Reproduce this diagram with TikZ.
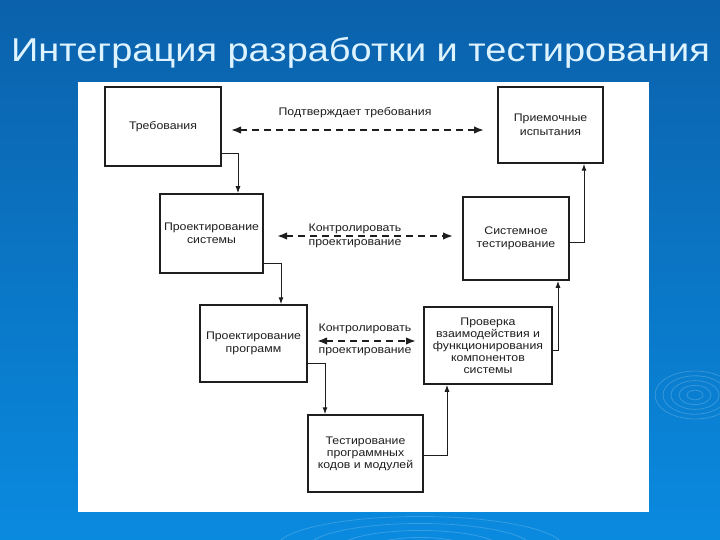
\documentclass[tikz,border=0pt]{standalone}
\usepackage{fontspec}
\setmainfont{Liberation Sans}
\newfontfamily\diagfont[FakeStretch=1.12]{Liberation Sans}
\newfontfamily\titlefont[FakeStretch=1.15]{Liberation Sans}
\usetikzlibrary{arrows.meta,calc}
\definecolor{bgtop}{HTML}{0B61AB}
\definecolor{bgbot}{HTML}{0A8ADF}
\definecolor{titlec}{HTML}{DDF3FF}
\definecolor{ink}{HTML}{1E1E1E}
\tikzset{
  box/.style={draw=ink, line width=1.5pt, fill=white, align=center, inner sep=2pt,
    font=\diagfont\fontsize{11}{13.5}\selectfont, text=ink},
  conn/.style={draw=ink, line width=1pt, -{Latex[length=7pt,width=5pt]}},
  dasharrow/.style={draw=ink, line width=1.7pt, dash pattern=on 7pt off 5pt,
    {Latex[length=10pt,width=7.5pt]}-{Latex[length=10pt,width=7.5pt]}},
  lbl/.style={font=\diagfont\fontsize{11}{13}\selectfont, text=ink, inner sep=0pt},
  ripple/.style={draw=white, opacity=0.18, line width=0.8pt}
}
\begin{document}
\begin{tikzpicture}[x=1pt,y=-1pt]
\useasboundingbox (0,0) rectangle (720,540);
\shade[top color=bgtop, bottom color=bgbot] (0,0) rectangle (720,540);
% faint background ripples
\foreach \r in {8,16,24,32,40}{
  \draw[ripple] (695,395) ellipse ({\r} and {0.6*\r});
}
\foreach \r in {30,50,70,90}{
  \draw[ripple] (420,548) ellipse ({1.6*\r} and {0.35*\r});
}
% title
\node[anchor=base west, inner sep=0pt, text=titlec, font=\titlefont\fontsize{33}{36}\selectfont] (title) at (11,62) {Интеграция разработки и тестирования};
% panel
\fill[white] (78,82) rectangle (649,512);

% boxes
\node[box, minimum width=116pt, minimum height=79pt] (req) at (163,126.5) {Требования};
\node[box, minimum width=105pt, minimum height=76pt] (acc) at (550.5,125) {Приемочные\\испытания};
\node[box, minimum width=103pt, minimum height=79pt] (sysdes) at (211.5,233.5) {Проектирование\\системы};
\node[box, minimum width=106pt, minimum height=83pt] (systest) at (516,238.5) {Системное\\тестирование};
\node[box, minimum width=107pt, minimum height=77pt] (progdes) at (253.5,343.5) {Проектирование\\программ};
\node[box, minimum width=128pt, minimum height=77pt, font=\diagfont\fontsize{11}{12}\selectfont] (integ) at (488,345.5) {Проверка\\взаимодействия и\\функционирования\\компонентов\\системы};
\node[box, minimum width=115pt, minimum height=77pt, font=\diagfont\fontsize{11}{12}\selectfont] (unit) at (365.5,453.5) {Тестирование\\программных\\кодов и модулей};

% solid connectors
\draw[conn] (req.east |- 0,154) -| (238,0 |- sysdes.north);
\draw[conn] (sysdes.east |- 0,263) -| (281,0 |- progdes.north);
\draw[conn] (progdes.east |- 0,363) -| (325,0 |- unit.north);
\draw[conn] (unit.east |- 0,455) -| (447,0 |- integ.south);
\draw[conn] (integ.east |- 0,350) -| (558,0 |- systest.south);
\draw[conn] (systest.east |- 0,242) -| (584,0 |- acc.south);

% dashed connectors
\coordinate (d1a) at (231,130);
\coordinate (d1b) at (484,130);
\coordinate (d2a) at (277,236);
\coordinate (d2b) at (453,236);
\coordinate (d3a) at (317,341);
\coordinate (d3b) at (416,341);
\draw[dasharrow] (d1a) -- (d1b);
\draw[dasharrow] (d2a) -- (d2b);
\draw[dasharrow] (d3a) -- (d3b);

% labels
\node[lbl] (l1) at (355,113) {Подтверждает требования};
\node[lbl] (l2a) at (355,229) {Контролировать};
\node[lbl] (l2b) at (355,244) {проектирование};
\node[lbl] (l3a) at (365,329) {Контролировать};
\node[lbl] (l3b) at (365,352) {проектирование};
\end{tikzpicture}
\end{document}
